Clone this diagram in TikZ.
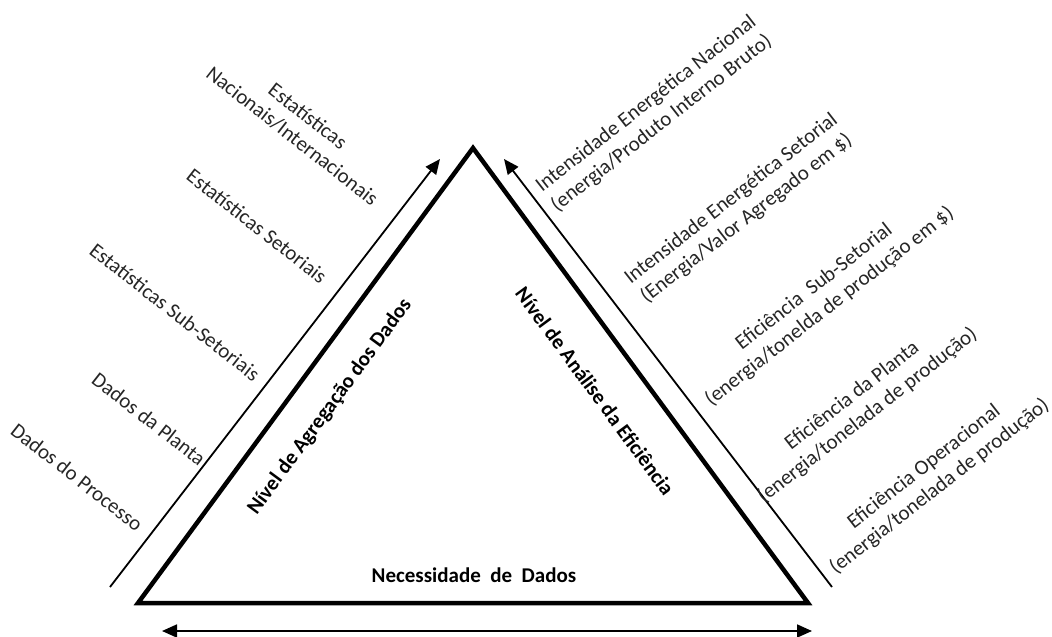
\documentclass[tikz,border=0pt]{standalone}
\usepackage{fontspec}
\setmainfont{Carlito}
\usetikzlibrary{arrows.meta}
\begin{document}
\begin{tikzpicture}[x=1pt,y=-1pt,
  edge/.style={line width=4.5pt, line join=miter},
  guide/.style={line width=1.8pt, -{Triangle[length=15pt,width=13pt]}},
  guideboth/.style={line width=1.8pt, {Triangle[length=15pt,width=13pt]}-{Triangle[length=15pt,width=13pt]}},
  lab/.style={font=\fontsize{21}{25}\selectfont, text=black!85, inner sep=0pt, align=center},
  blab/.style={font=\fontsize{21}{25}\selectfont\bfseries, inner sep=0pt}
]
\useasboundingbox (0,0) rectangle (1052,637);

% pyramid corners
\coordinate (A) at (138,603);
\coordinate (B) at (808,603);
\coordinate (C) at (473,148);
\draw[edge] (A) -- (C) -- (B) -- cycle;

% guide arrows
\coordinate (La) at (110,587);
\coordinate (Lb) at (440,159);
\coordinate (Ra) at (832,587);
\coordinate (Rb) at (504,159);
\coordinate (Ba) at (162,631);
\coordinate (Bb) at (812,631);
\draw[guide] (La) -- (Lb);
\draw[guide] (Ra) -- (Rb);
\draw[guideboth] (Ba) -- (Bb);

% data sources (left)
\node[lab, rotate=-38] (l1) at (300,126) {Estatísticas\\Nacionais/Internacionais};
\node[lab, rotate=-38] (l2) at (257,226) {Estatísticas Setoriais};
\node[lab, rotate=-38] (l3) at (175,312) {Estatísticas Sub-Setoriais};
\node[lab, rotate=-38] (l4) at (149,419) {Dados da Planta};
\node[lab, rotate=-38] (l5) at (77,477) {Dados do Processo};

% indicators (right)
\node[lab, rotate=38] (r1) at (654,114) {Intensidade Energética Nacional\\(energia/Produto Interno Bruto)};
\node[lab, rotate=38] (r2) at (739,209) {Intensidade Energética Setorial\\(Energia/Valor Agregado em \$)};
\node[lab, rotate=38] (r3) at (822,297) {Eficiência\ \ Sub-Setorial\\(energia/tonelda de produção em \$)};
\node[lab, rotate=38] (r4) at (860,406) {Eficiência da Planta\\(energia/tonelada de produção)};
\node[lab, rotate=38] (r5) at (932,477) {Eficiência Operacional\\(energia/tonelada de produção)};

% axis titles
\node[blab, rotate=53.6] (agg) at (330,407) {Nível de Agregação dos Dados};
\node[blab, rotate=-53.6] (ana) at (595,391) {Nível de Análise da Eficiência};
\node[blab, anchor=base] (nec) at (474,582) {Necessidade\ \ de\ \ Dados};
\end{tikzpicture}
\end{document}
